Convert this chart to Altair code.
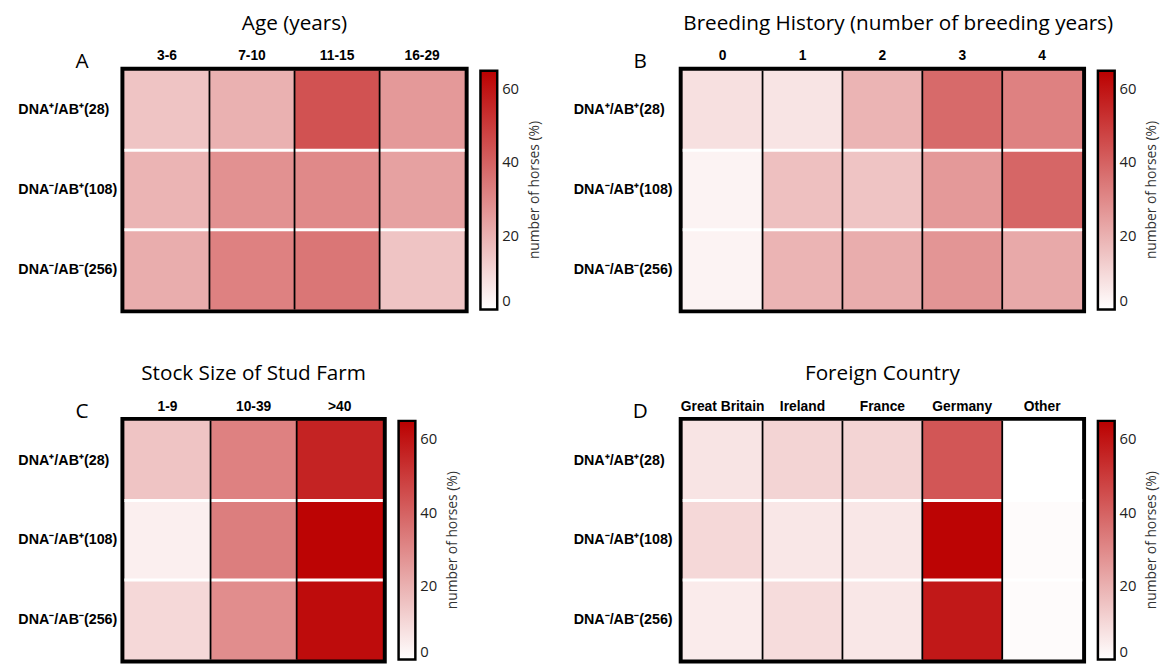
import altair as alt
import pandas as pd

# ---------------- data ----------------
row_labels = ["DNA⁺/AB⁺(28)", "DNA⁻/AB⁺(108)", "DNA⁻/AB⁻(256)"]

age_cats = ["3-6", "7-10", "11-15", "16-29"]
age_r1 = [15, 20, 44, 26]
age_r2 = [19, 28, 30, 24]
age_r3 = [21, 32, 35, 15]

breed_cats = ["0", "1", "2", "3", "4"]
breed_r1 = [8, 7, 19, 38, 32]
breed_r2 = [3, 16, 15, 26, 39]
breed_r3 = [3, 19, 21, 27, 22]

stock_cats = ["1-9", "10-39", ">40"]
stock_r1 = [15, 32, 56]
stock_r2 = [4, 33, 64]
stock_r3 = [10, 29, 62]

country_cats = ["Great Britain", "Ireland", "France", "Germany", "Other"]
country_r1 = [7, 11, 11, 43, 0]
country_r2 = [10, 6, 6, 64, 1]
country_r3 = [5, 9, 6, 59, 1]

color_domain = [0, 65]
legend_ticks = [0, 20, 40, 60]
legend_title = "number of horses (%)"

TITLE_FONT = "Open Sans"
LABEL_FONT = "Liberation Sans"
H = 242


def panel(title, letter, cats, rows, width, label_pad, title_dx=0):
    df = pd.DataFrame({
        "group": [r for r in row_labels for _ in cats],
        "cat": cats * len(row_labels),
        "pct": [v for row in rows for v in row],
    })
    xscale = alt.Scale(domain=cats, paddingInner=0, paddingOuter=0)
    yscale = alt.Scale(domain=row_labels, paddingInner=0, paddingOuter=0)
    xaxis = alt.Axis(orient="top", title=None, labelAngle=0, ticks=False,
                     domain=False, labelFont=LABEL_FONT, labelFontWeight="bold",
                     labelFontSize=14, labelColor="black", labelPadding=8, grid=False)
    yaxis = alt.Axis(title=None, ticks=False, domain=False, labelAlign="left",
                     labelPadding=label_pad, labelFont=LABEL_FONT,
                     labelFontWeight="bold", labelFontSize=14.5,
                     labelColor="black", labelLimit=0, grid=False)

    heat = alt.Chart(df).mark_rect().encode(
        x=alt.X("cat:N", scale=xscale, axis=xaxis),
        y=alt.Y("group:N", scale=yscale, axis=yaxis),
        color=alt.Color("pct:Q",
                        scale=alt.Scale(domain=color_domain, range=["#ffffff", "#bb0000"],
                                        interpolate="rgb"),
                        legend=alt.Legend(title=None, orient="right", direction="vertical",
                                          gradientLength=H, gradientThickness=17,
                                          gradientStrokeColor="black", gradientStrokeWidth=2.5,
                                          values=legend_ticks, labelFont=TITLE_FONT,
                                          labelFontSize=15, labelColor="#222",
                                          labelBaseline="middle",
                                          labelOffset=5, labelOverlap=False, offset=16)),
    )

    hl = alt.Chart(pd.DataFrame({"group": row_labels[1:]})).mark_rule(
        color="white", strokeWidth=3
    ).encode(y=alt.Y("group:N", scale=yscale, bandPosition=0, axis=yaxis))

    vl = alt.Chart(pd.DataFrame({"cat": cats[1:]})).mark_rule(
        color="black", strokeWidth=1.8
    ).encode(x=alt.X("cat:N", scale=xscale, bandPosition=0, axis=xaxis))

    let = alt.Chart(pd.DataFrame({"t": [letter]})).mark_text(
        font=TITLE_FONT, fontSize=21, align="center", baseline="middle", color="black"
    ).encode(x=alt.value(-43), y=alt.value(-9), text="t:N")

    lt = alt.Chart(pd.DataFrame({"t": [legend_title]})).mark_text(
        font=TITLE_FONT, fontSize=14, angle=270, align="center", baseline="middle",
        color="#333"
    ).encode(x=alt.value(width + 71), y=alt.value(H / 2), text="t:N")

    return alt.layer(heat, hl, vl, let, lt).properties(
        width=width, height=H,
        title=alt.TitleParams(title, font=TITLE_FONT, fontSize=21, fontWeight="normal",
                              anchor="middle", frame="group", offset=15, color="black",
                              dx=title_dx),
    )


pA = panel("Age (years)", "A", age_cats, [age_r1, age_r2, age_r3], 345, 108)
pB = panel("Breeding History (number of breeding years)", "B", breed_cats,
           [breed_r1, breed_r2, breed_r3], 405, 111, title_dx=16)
pC = panel("Stock Size of Stud Farm", "C", stock_cats, [stock_r1, stock_r2, stock_r3], 262, 108)
pD = panel("Foreign Country", "D", country_cats, [country_r1, country_r2, country_r3], 405, 111)

top = alt.hconcat(pA, pB, spacing=24).resolve_scale(color="independent")
bottom = alt.hconcat(pC, pD, spacing=107).resolve_scale(color="independent")

chart = alt.vconcat(top, bottom, spacing=45).resolve_scale(
    color="independent"
).properties(
    padding={"left": 6, "top": -3, "right": 0, "bottom": 0},
    background="white",
).configure_view(stroke="black", strokeWidth=8)

chart.save("out.html", embed_options={"renderer": "svg", "actions": False})
